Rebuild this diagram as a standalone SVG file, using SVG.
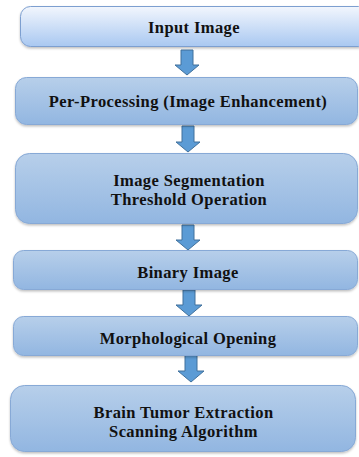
<svg xmlns="http://www.w3.org/2000/svg" width="359" height="457" viewBox="0 0 359 457">
<defs>
<linearGradient id="g1" x1="0" y1="0" x2="0" y2="1">
<stop offset="0" stop-color="#f2f6fd"/>
<stop offset="1" stop-color="#a9c8f1"/>
</linearGradient>
<linearGradient id="g2" x1="0" y1="0" x2="0" y2="1">
<stop offset="0" stop-color="#b7cfea"/>
<stop offset="1" stop-color="#92b6e1"/>
</linearGradient>
<filter id="sh" x="-5%" y="-10%" width="110%" height="130%">
<feDropShadow dx="0" dy="1.5" stdDeviation="1" flood-color="#000" flood-opacity="0.25"/>
</filter>
</defs>
<style>
.box{fill:url(#g2);stroke:#87a9d6;stroke-width:1;filter:url(#sh)}
.b1{fill:url(#g1);stroke:#7d9fd0;stroke-width:1;filter:url(#sh)}
.arr{fill:#5b9bd5;stroke:#41719c;stroke-width:1}
text{font-family:"Liberation Serif","Times New Roman",serif;font-weight:bold;font-size:16.5px;letter-spacing:0.4px;fill:#111;text-anchor:middle}
</style>
<rect width="359" height="457" fill="#fff"/>
<g id="connectors">
<path class="arr" d="M181,50 H193 V65 H199 L187,75 L175,65 H181 Z"/>
<path class="arr" d="M182,126 H194 V142 H200 L188,152 L176,142 H182 Z"/>
<path class="arr" d="M182,225 H194 V240 H200 L188,250 L176,240 H182 Z"/>
<path class="arr" d="M183,290 H195 V305 H202 L189,316 L176,305 H183 Z"/>
<path class="arr" d="M185,355 H197 V371 H204 L191,382 L178,371 H185 Z"/>
</g>
<g id="n1">
<rect class="b1" x="20.5" y="6.5" width="348" height="40" rx="10"/>
<text x="194" y="32.5">Input Image</text>
</g>
<g id="n2">
<rect class="box" x="15.5" y="77.5" width="342" height="47" rx="11"/>
<text x="188" y="107">Per-Processing (Image Enhancement)</text>
</g>
<g id="n3">
<rect class="box" x="15.5" y="153.5" width="342" height="70" rx="14"/>
<text x="189" y="186">Image Segmentation</text>
<text x="189" y="204.5">Threshold Operation</text>
</g>
<g id="n4">
<rect class="box" x="13.5" y="250.5" width="344" height="39" rx="10"/>
<text x="188" y="277.5">Binary Image</text>
</g>
<g id="n5">
<rect class="box" x="13.5" y="316.5" width="344" height="39" rx="10"/>
<text x="188" y="343.5">Morphological Opening</text>
</g>
<g id="n6">
<rect class="box" x="10.5" y="385.5" width="345" height="66" rx="14"/>
<text x="183.5" y="418">Brain Tumor Extraction</text>
<text x="183.5" y="436.5">Scanning Algorithm</text>
</g>
</svg>
